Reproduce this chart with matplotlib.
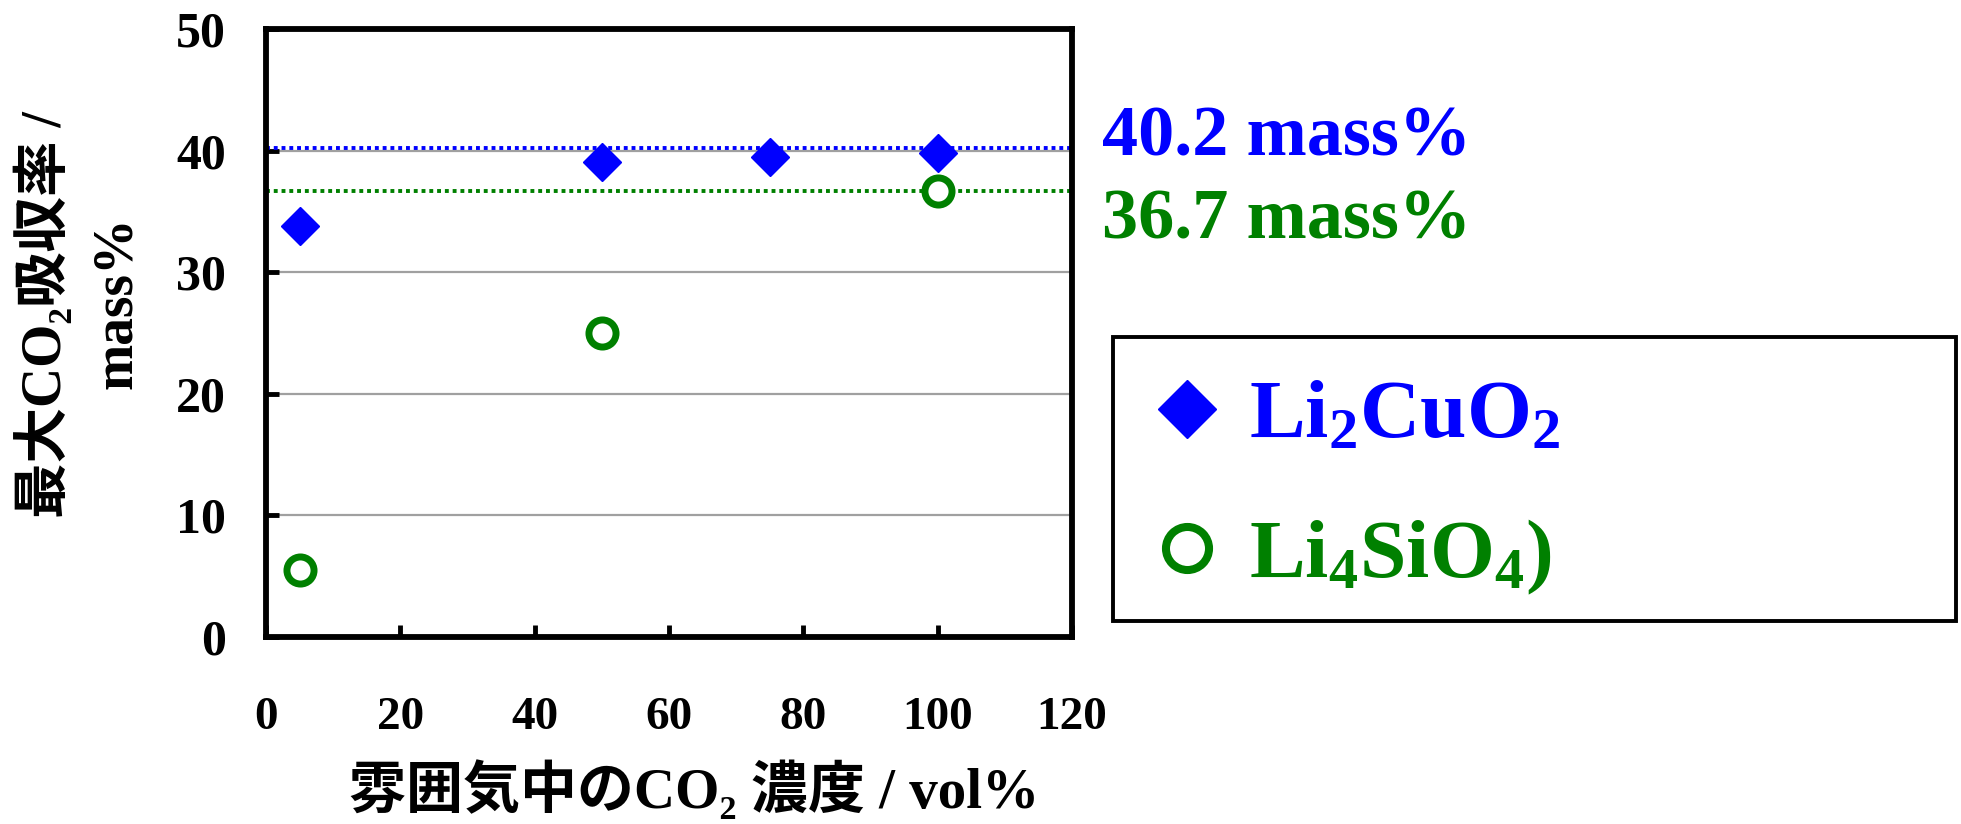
import matplotlib
matplotlib.use("Agg")
import matplotlib.pyplot as plt
from matplotlib.patches import Rectangle
from matplotlib.lines import Line2D
from matplotlib.font_manager import FontProperties

# CO2 concentration in the atmosphere (vol%) and maximum CO2 uptake (mass%)
co2_conc_cu = [5, 50, 75, 100]
uptake_cu = [33.8, 39.05, 39.5, 39.8]
co2_conc_si = [5, 50, 100]
uptake_si = [5.5, 25.0, 36.7]

# theoretical maximum uptake of each sorbent
max_cu = 40.2
max_si = 36.7

x_ticks = [0, 20, 40, 60, 80, 100, 120]
y_ticks = [0, 10, 20, 30, 40, 50]
grid_levels = [10, 20, 30, 40]

labels = [r"Li$_2$CuO$_2$", r"Li$_4$SiO$_4$)"]

BLUE = "#0000FF"
GREEN = "#008000"
SERIF = "Liberation Serif"
MIXED = ["Liberation Serif", "Noto Sans CJK JP"]

plt.rcParams["mathtext.fontset"] = "custom"
plt.rcParams["mathtext.rm"] = "Liberation Serif:bold"
plt.rcParams["mathtext.it"] = "Liberation Serif:bold"
plt.rcParams["mathtext.bf"] = "Liberation Serif:bold"

W, H = 1961, 824
fig = plt.figure(figsize=(W / 100, H / 100), dpi=100)

# axes box in pixel coordinates
ax_l, ax_r, ax_t, ax_b = 266, 1072, 29, 637
ax = fig.add_axes([ax_l / W, 1 - ax_b / H, (ax_r - ax_l) / W, (ax_b - ax_t) / H])
ax.set_xlim(x_ticks[0], x_ticks[-1])
ax.set_ylim(y_ticks[0], y_ticks[-1])

for g in grid_levels:
    ax.axhline(g, color="#a0a0a0", lw=1.6, zorder=1)
ax.axhline(max_cu, color=BLUE, lw=2.8, ls=(0, (1, 1)), zorder=2)
ax.axhline(max_si, color=GREEN, lw=2.8, ls=(0, (1, 1)), zorder=2)

h_cu, = ax.plot(co2_conc_cu, uptake_cu, "D", color=BLUE, ms=19.5, ls="none",
                zorder=3, clip_on=False)
h_si, = ax.plot(co2_conc_si, uptake_si, "o", mfc="white", mec=GREEN, mew=5,
                ms=19.5, ls="none", zorder=3, clip_on=False)

for side in ["left", "right", "top", "bottom"]:
    ax.spines[side].set_linewidth(4.2)
    ax.spines[side].set_color("black")

ax.set_xticks(x_ticks)
ax.set_yticks(y_ticks)
ax.tick_params(axis="both", direction="in", length=9, width=3.5, color="black")
ax.tick_params(axis="x", pad=43)
ax.tick_params(axis="y", pad=29)
for lbl in ax.get_xticklabels():
    lbl.set_fontfamily(SERIF)
    lbl.set_fontweight("bold")
    lbl.set_fontsize(34)
for lbl in ax.get_yticklabels():
    lbl.set_fontfamily(SERIF)
    lbl.set_fontweight("bold")
    lbl.set_fontsize(36)

# axis titles
fig.text(44 / W, 1 - 315 / H, "最大CO₂吸収率 /", rotation=90, ha="center",
         va="center", family=MIXED, weight="bold", size=40)
fig.text(117 / W, 1 - 303 / H, "mass%", rotation=90, ha="center", va="center",
         family=SERIF, weight="bold", size=40)
fig.text(694 / W, 1 - 790 / H, "雰囲気中のCO₂ 濃度 / vol%", ha="center",
         va="center", family=MIXED, weight="bold", size=41)

# theoretical maximum labels
fig.text(1102 / W, 1 - 138 / H, f"{max_cu} mass%", color=BLUE, family=SERIF,
         weight="bold", size=52, ha="left", va="center")
fig.text(1102 / W, 1 - 221 / H, f"{max_si} mass%", color=GREEN, family=SERIF,
         weight="bold", size=52, ha="left", va="center")

# legend with its own frame
fig.patches.append(Rectangle((1113 / W, 1 - 621 / H), 843 / W, 284 / H,
                             transform=fig.transFigure, fill=False, lw=2.8,
                             ec="black"))
leg_handles = [
    Line2D([], [], marker="D", ms=30, color=BLUE, ls="none"),
    Line2D([], [], marker="o", ms=31, mfc="white", mec=GREEN, mew=5.8, ls="none"),
]
leg = fig.legend(leg_handles, labels, loc="center left",
                 bbox_to_anchor=(1158 / W, 1 - 488 / H),
                 bbox_transform=fig.transFigure, frameon=False,
                 prop=FontProperties(family=SERIF, weight="bold", size=60),
                 handlelength=0.7, handletextpad=0.39,
                 labelspacing=0.74, borderpad=0, borderaxespad=0)
for txt, c in zip(leg.get_texts(), [BLUE, GREEN]):
    txt.set_color(c)

fig.savefig("out.png", dpi=100)
